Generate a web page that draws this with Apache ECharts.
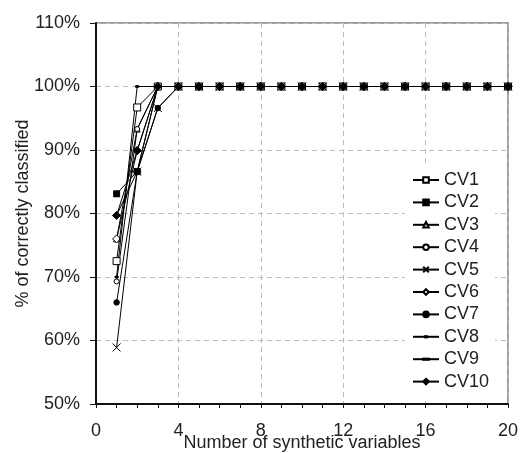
<!DOCTYPE html>
<html>
<head>
<meta charset="utf-8">
<script src="https://cdn.jsdelivr.net/npm/echarts@6/dist/echarts.min.js"></script>
<style>
  html, body { margin: 0; padding: 0; background: #fff; }
  #chart { width: 520px; height: 453px; }
</style>
</head>
<body>
<div id="chart"></div>
<script>
// Number of synthetic variables used in the classifier
const nVars = [1, 2, 3, 4, 5, 6, 7, 8, 9, 10, 11, 12, 13, 14, 15, 16, 17, 18, 19, 20];

// % correctly classified for each cross-validation fold
const cv1  = [72.5, 96.7, 100, 100, 100, 100, 100, 100, 100, 100, 100, 100, 100, 100, 100, 100, 100, 100, 100, 100];
const cv2  = [83.1, 86.6, 100, 100, 100, 100, 100, 100, 100, 100, 100, 100, 100, 100, 100, 100, 100, 100, 100, 100];
const cv3  = [76.0, 93.3, 100, 100, 100, 100, 100, 100, 100, 100, 100, 100, 100, 100, 100, 100, 100, 100, 100, 100];
const cv4  = [69.3, 93.3, 100, 100, 100, 100, 100, 100, 100, 100, 100, 100, 100, 100, 100, 100, 100, 100, 100, 100];
const cv5  = [58.9, 86.6, 96.6, 100, 100, 100, 100, 100, 100, 100, 100, 100, 100, 100, 100, 100, 100, 100, 100, 100];
const cv6  = [76.0, 89.9, 100, 100, 100, 100, 100, 100, 100, 100, 100, 100, 100, 100, 100, 100, 100, 100, 100, 100];
const cv7  = [66.0, 86.6, 96.6, 100, 100, 100, 100, 100, 100, 100, 100, 100, 100, 100, 100, 100, 100, 100, 100, 100];
const cv8  = [70.0, 100, 100, 100, 100, 100, 100, 100, 100, 100, 100, 100, 100, 100, 100, 100, 100, 100, 100, 100];
const cv9  = [79.7, 86.6, 100, 100, 100, 100, 100, 100, 100, 100, 100, 100, 100, 100, 100, 100, 100, 100, 100, 100];
const cv10 = [79.7, 89.9, 100, 100, 100, 100, 100, 100, 100, 100, 100, 100, 100, 100, 100, 100, 100, 100, 100, 100];

const seriesNames = ['CV1', 'CV2', 'CV3', 'CV4', 'CV5', 'CV6', 'CV7', 'CV8', 'CV9', 'CV10'];
const seriesValues = [cv1, cv2, cv3, cv4, cv5, cv6, cv7, cv8, cv9, cv10];

// Marker shapes (open = white fill with black outline); z lifts some markers above others
const CROSS = 'path://M0,0 L10,10 M10,0 L0,10';
const SMALL_DASH = 'path://M0,0 M10,10 M3,4 L7,4 L7,6 L3,6 Z';
const WIDE_DASH = 'path://M0,0 M10,10 M0,4 L10,4 L10,6 L0,6 Z';
const markers = [
  { symbol: 'rect',     size: 7,   open: true,  z: 3 },
  { symbol: 'rect',     size: 6,   open: false, z: 2 },
  { symbol: 'triangle', size: 6,   open: true,  z: 2 },
  { symbol: 'circle',   size: 5,   open: true,  z: 2 },
  { symbol: CROSS,      size: 8,   open: true,  z: 5 },
  { symbol: 'diamond',  size: 8,   open: true,  z: 2 },
  { symbol: 'circle',   size: 5.5, open: false, z: 4 },
  { symbol: SMALL_DASH, size: 8,   open: false, z: 2 },
  { symbol: WIDE_DASH,  size: 7,   open: false, z: 2 },
  { symbol: 'diamond',  size: 8,   open: false, z: 4 }
];

const series = seriesNames.map((name, i) => ({
  name: name,
  type: 'line',
  z: markers[i].z,
  data: nVars.map((x, j) => [x, seriesValues[i][j]]),
  symbol: markers[i].symbol,
  symbolSize: markers[i].size,
  showSymbol: true,
  lineStyle: { color: '#000', width: 1 },
  itemStyle: {
    color: markers[i].open ? '#fff' : '#000',
    borderColor: '#000',
    borderWidth: 1
  },
  emphasis: { disabled: true }
}));

const FONT = 'Liberation Sans, Arial, sans-serif';
const chart = echarts.init(document.getElementById('chart'), null, { renderer: 'canvas' });
chart.setOption({
  animation: false,
  backgroundColor: '#fff',
  grid: {
    left: 96, right: 12, top: 23, bottom: 49,
    outerBoundsMode: 'none',
    containLabel: false,
    show: true, borderColor: '#808080', borderWidth: 1.5, backgroundColor: 'transparent'
  },
  xAxis: {
    type: 'value',
    min: 0, max: 20, interval: 4,
    name: 'Number of synthetic variables',
    nameLocation: 'middle',
    nameGap: 30,
    nameMoveOverlap: false,
    nameTextStyle: { fontFamily: FONT, fontSize: 18, color: '#222' },
    axisLine: { show: true, onZero: false, lineStyle: { color: '#111', width: 2 } },
    axisTick: { show: true, inside: false, length: 4, lineStyle: { color: '#111', width: 1 } },
    minorTick: { show: true, splitNumber: 4, length: 4, lineStyle: { color: '#111', width: 1 } },
    axisLabel: { fontFamily: FONT, fontSize: 18, color: '#222', margin: 18 },
    splitLine: { show: true, lineStyle: { color: '#bdbdbd', type: [5, 4], width: 1 } }
  },
  yAxis: {
    type: 'value',
    min: 50, max: 110, interval: 10,
    name: '% of correctly classified',
    nameLocation: 'middle',
    nameGap: 64,
    nameMoveOverlap: false,
    nameTextStyle: { fontFamily: FONT, fontSize: 18, color: '#222' },
    axisLine: { show: true, onZero: false, lineStyle: { color: '#111', width: 2 } },
    axisTick: { show: true, inside: false, length: 6, lineStyle: { color: '#111', width: 1 } },
    axisLabel: { fontFamily: FONT, fontSize: 18, color: '#222', margin: 16, formatter: '{value}%' },
    splitLine: { show: true, lineStyle: { color: '#bdbdbd', type: [5, 4], width: 1 } }
  },
  legend: {
    orient: 'vertical',
    left: 405, top: 165,
    padding: [6, 6, 6, 7],
    backgroundColor: '#fff',
    itemWidth: 26, itemHeight: 7, itemGap: 4.4,
    selectedMode: false,
    textStyle: { fontFamily: FONT, fontSize: 18, color: '#222', lineHeight: 18 },
    data: seriesNames
  },
  series: series
});
</script>
</body>
</html>
